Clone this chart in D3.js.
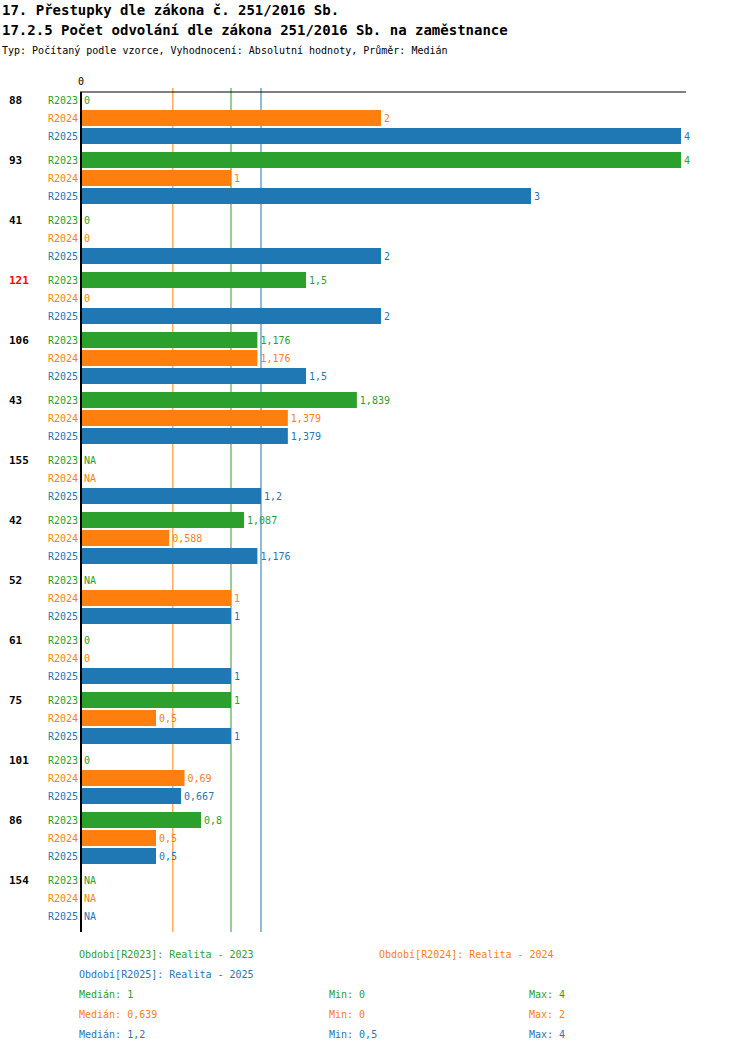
<!DOCTYPE html>
<html><head><meta charset="utf-8">
<script src="https://cdn.jsdelivr.net/npm/d3@7"></script>
<style>body{margin:0;background:#fff}text{font-family:"DejaVu Sans Mono",monospace}</style>
</head><body><div id="chart"></div>
<script>
const groups = ["88","93","41","121","106","43","155","42","52","61","75","101","86","154"];
const highlight = ["121"];
const series = ["R2023","R2024","R2025"];
const colors = ["#2ca02c","#ff7f0e","#1f77b4"];
const values = [
  [0,2,4],[4,1,3],[0,0,2],[1.5,0,2],[1.176,1.176,1.5],[1.839,1.379,1.379],
  [null,null,1.2],[1.087,0.588,1.176],[null,1,1],[0,0,1],[1,0.5,1],
  [0,0.69,0.667],[0.8,0.5,0.5],[null,null,null]
];
const medians = [1,0.639,1.2];
const mins = [0,0,0.5];
const maxs = [4,2,4];
const periods = ["Realita - 2023","Realita - 2024","Realita - 2025"];

const width = 750, height = 1052;
const svg = d3.select("#chart").append("svg").attr("width", width).attr("height", height);
const x = d3.scaleLinear().domain([0, 4]).range([81, 681]);
const top0 = 92, groupH = 60, rowH = 18;
const fmt = v => v === null ? "NA" : String(+v.toFixed(3)).replace(".", ",");

svg.append("text").attr("x", 2).attr("y", 15).text("17. Přestupky dle zákona č. 251/2016 Sb.")
  .style("font-size", "14px").style("font-weight", "bold");
svg.append("text").attr("x", 2).attr("y", 35).text("17.2.5 Počet odvolání dle zákona 251/2016 Sb. na zaměstnance")
  .style("font-size", "14px").style("font-weight", "bold");
svg.append("text").attr("x", 2).attr("y", 54).text("Typ: Počítaný podle vzorce, Vyhodnocení: Absolutní hodnoty, Průměr: Medián")
  .style("font-size", "10px");

const bottom = top0 + groups.length * groupH;
// median lines
medians.forEach((m, i) => {
  svg.append("line").attr("x1", x(m) - 4 * (i === 1)).attr("x2", x(m) - 4 * (i === 1))
    .attr("y1", top0 - 4).attr("y2", bottom - 20 + 20)
    .attr("stroke", colors[i]).attr("stroke-width", 1);
});

groups.forEach((g, gi) => {
  const gy = top0 + gi * groupH + 8;
  svg.append("text").attr("x", 9).attr("y", gy + 4).text(g)
    .style("font-size", "11px").style("font-weight", "bold")
    .attr("fill", highlight.includes(g) ? "#ff0000" : "#000");
  series.forEach((s, si) => {
    const cy = gy + si * rowH;
    const v = values[gi][si];
    svg.append("text").attr("x", 78).attr("y", cy + 4).attr("text-anchor", "end")
      .text(s).attr("fill", colors[si]).style("font-size", "10px");
    if (v) {
      svg.append("rect").attr("x", x(0)).attr("y", cy - 8)
        .attr("width", x(v) - x(0)).attr("height", 16).attr("fill", colors[si]);
    }
    svg.append("text").attr("x", x(v || 0) + 3).attr("y", cy + 4)
      .text(fmt(v)).attr("fill", colors[si]).style("font-size", "10px");
  });
});

// axis
svg.append("line").attr("x1", 80).attr("x2", 686).attr("y1", top0).attr("y2", top0).attr("stroke", "#000");
svg.append("line").attr("x1", x(0)).attr("x2", x(0)).attr("y1", top0).attr("y2", bottom - 20 + 20).attr("stroke", "#000").attr("stroke-width", 2);
svg.append("text").attr("x", x(0)).attr("y", 85).attr("text-anchor", "middle").text("0").style("font-size", "10px");

// legend
const ly = 958;
const legPos = [[79, ly], [379, ly], [79, ly + 20]];
series.forEach((s, i) => {
  svg.append("text").attr("x", legPos[i][0]).attr("y", legPos[i][1])
    .text(`Období[${s}]: ${periods[i]}`).attr("fill", colors[i]).style("font-size", "10px");
  const sy = ly + 40 + i * 20;
  svg.append("text").attr("x", 79).attr("y", sy).text(`Medián: ${fmt(medians[i])}`).attr("fill", colors[i]).style("font-size", "10px");
  svg.append("text").attr("x", 329).attr("y", sy).text(`Min: ${fmt(mins[i])}`).attr("fill", colors[i]).style("font-size", "10px");
  svg.append("text").attr("x", 529).attr("y", sy).text(`Max: ${fmt(maxs[i])}`).attr("fill", colors[i]).style("font-size", "10px");
});
</script></body></html>
